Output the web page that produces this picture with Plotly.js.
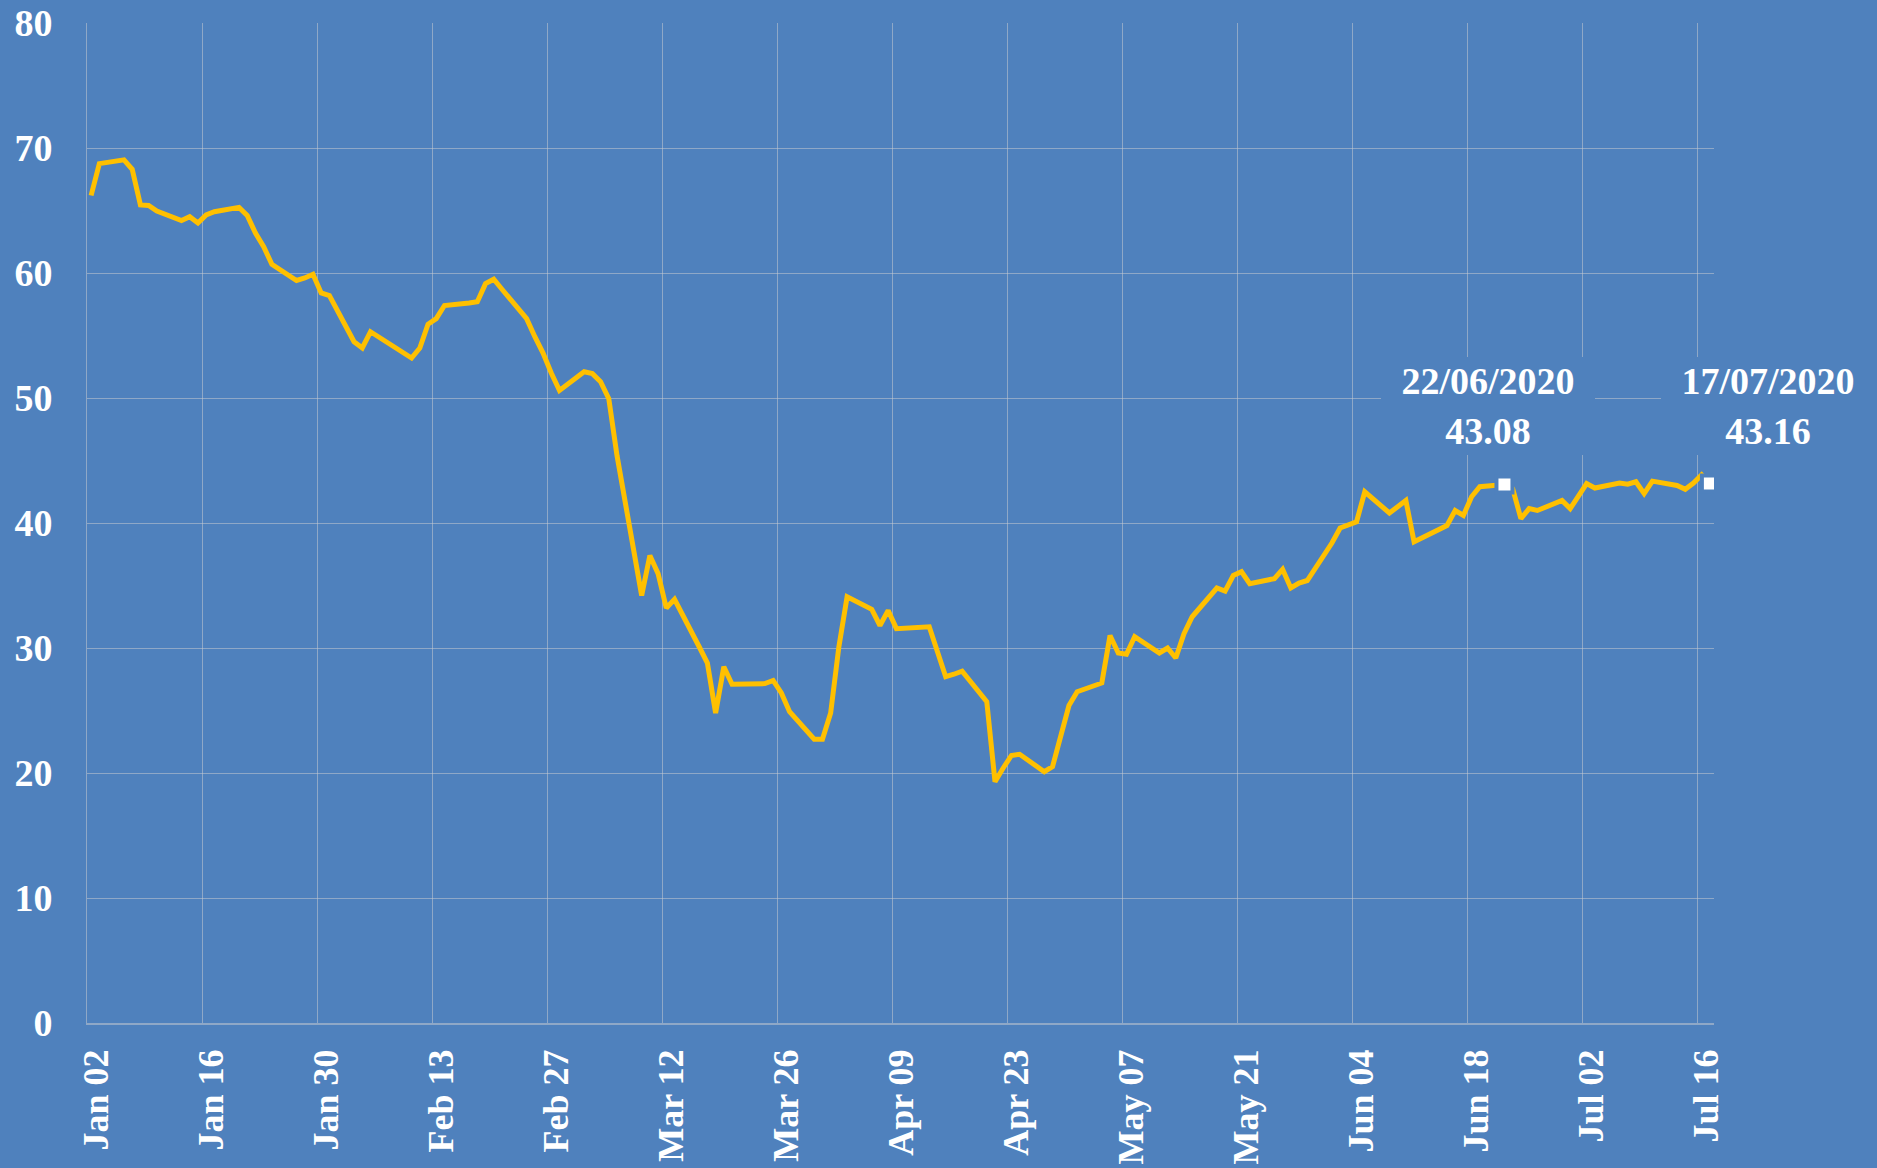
<!DOCTYPE html>
<html>
<head>
<meta charset="utf-8">
<script src="https://cdn.plot.ly/plotly-3.0.1.min.js"></script>
<style>
  html, body { margin: 0; padding: 0; background: #4F81BD; }
  #chart { width: 1877px; height: 1168px; }
</style>
</head>
<body>
<div id="chart"></div>
<script>
// Trading dates (2020)
const dates = [
  "2020-01-02","2020-01-03","2020-01-06","2020-01-07","2020-01-08","2020-01-09","2020-01-10",
  "2020-01-13","2020-01-14","2020-01-15","2020-01-16","2020-01-17","2020-01-20","2020-01-21",
  "2020-01-22","2020-01-23","2020-01-24","2020-01-27","2020-01-28","2020-01-29","2020-01-30",
  "2020-01-31","2020-02-03","2020-02-04","2020-02-05","2020-02-06","2020-02-07","2020-02-10",
  "2020-02-11","2020-02-12","2020-02-13","2020-02-14","2020-02-17","2020-02-18","2020-02-19",
  "2020-02-20","2020-02-21","2020-02-24","2020-02-25","2020-02-26","2020-02-27","2020-02-28",
  "2020-03-02","2020-03-03","2020-03-04","2020-03-05","2020-03-06","2020-03-09","2020-03-10",
  "2020-03-11","2020-03-12","2020-03-13","2020-03-16","2020-03-17","2020-03-18","2020-03-19",
  "2020-03-20","2020-03-23","2020-03-24","2020-03-25","2020-03-26","2020-03-27","2020-03-30",
  "2020-03-31","2020-04-01","2020-04-02","2020-04-03","2020-04-06","2020-04-07","2020-04-08",
  "2020-04-09","2020-04-13","2020-04-14","2020-04-15","2020-04-16","2020-04-17","2020-04-20",
  "2020-04-21","2020-04-22","2020-04-23","2020-04-24","2020-04-27","2020-04-28","2020-04-29",
  "2020-04-30","2020-05-01","2020-05-04","2020-05-05","2020-05-06","2020-05-07","2020-05-08",
  "2020-05-11","2020-05-12","2020-05-13","2020-05-14","2020-05-15","2020-05-18","2020-05-19",
  "2020-05-20","2020-05-21","2020-05-22","2020-05-25","2020-05-26","2020-05-27","2020-05-28",
  "2020-05-29","2020-06-01","2020-06-02","2020-06-03","2020-06-04","2020-06-05","2020-06-08",
  "2020-06-09","2020-06-10","2020-06-11","2020-06-12","2020-06-15","2020-06-16","2020-06-17",
  "2020-06-18","2020-06-19","2020-06-22","2020-06-23","2020-06-24","2020-06-25","2020-06-26",
  "2020-06-29","2020-06-30","2020-07-01","2020-07-02","2020-07-03","2020-07-06","2020-07-07",
  "2020-07-08","2020-07-09","2020-07-10","2020-07-13","2020-07-14","2020-07-15","2020-07-16",
  "2020-07-17"
];

// Price values
const prices = [
  66.2, 68.75, 69.05, 68.3, 65.45, 65.4, 64.95,
  64.2, 64.5, 64.0, 64.65, 64.9, 65.25, 64.6,
  63.2, 62.1, 60.7, 59.4, 59.6, 59.9, 58.4,
  58.2, 54.5, 54.0, 55.3, 54.9, 54.5, 53.2,
  54.0, 55.9, 56.35, 57.4, 57.6, 57.7, 59.15,
  59.5, 58.7, 56.35, 54.9, 53.6, 52.0, 50.6,
  52.1, 51.95, 51.3, 49.95, 45.4, 34.2, 37.4,
  35.95, 33.2, 33.9, 30.1, 28.8, 24.8, 28.5,
  27.1, 27.1, 27.15, 27.4, 26.4, 24.9, 22.7,
  22.7, 24.8, 30.1, 34.1, 33.1, 31.8, 33.0,
  31.55, 31.7, 29.7, 27.7, 27.9, 28.15, 25.7,
  19.3, 20.4, 21.4, 21.5, 20.1, 20.5, 22.8,
  25.4, 26.5, 27.2, 31.0, 29.6, 29.5, 30.9,
  29.6, 30.0, 29.2, 31.15, 32.5, 34.8, 34.55,
  35.8, 36.1, 35.15, 35.55, 36.3, 34.8, 35.2,
  35.4, 38.4, 39.6, 39.8, 40.1, 42.5, 40.8,
  41.3, 41.8, 38.5, 38.8, 39.8, 41.0, 40.6,
  42.1, 42.9, 43.08, 42.75, 40.35, 41.15, 41.0,
  41.8, 41.15, 42.1, 43.15, 42.8, 43.2, 43.1,
  43.3, 42.35, 43.35, 43.0, 42.7, 43.2, 43.85,
  43.16
];

// Labelled points
const labelDates = ["2020-06-22", "2020-07-17"];
const labelTexts = ["22/06/2020", "17/07/2020"];
const labelValues = [43.08, 43.16];

// Axis settings
const yTickValues = [0, 10, 20, 30, 40, 50, 60, 70, 80];

const BG = "#4F81BD";
const GRID = "rgba(196,200,208,0.55)";
const FONT = "Liberation Serif, Times New Roman, serif";
const DAY = 86400000;

const lineTrace = {
  type: "scatter",
  mode: "lines",
  x: dates,
  y: prices,
  xperiod: DAY,
  xperiodalignment: "middle",
  line: { color: "#FFC000", width: 5 },
  hoverinfo: "x+y",
  showlegend: false
};

const markerTrace = {
  type: "scatter",
  mode: "markers",
  x: labelDates,
  y: labelValues,
  xperiod: DAY,
  xperiodalignment: "middle",
  marker: { symbol: "square", size: 16, color: "#FFFFFF", line: { color: BG, width: 4 } },
  hoverinfo: "x+y",
  showlegend: false
};

const shifts = [[-16, 79], [58, 78]];
const annotations = labelDates.map((d, i) => ({
  x: d + " 12:00",
  y: labelValues[i],
  xref: "x",
  yref: "y",
  text: labelTexts[i] + "<br>" + labelValues[i].toFixed(2),
  showarrow: false,
  xshift: shifts[i][0],
  yshift: shifts[i][1],
  width: 212,
  height: 96,
  align: "center",
  valign: "middle",
  bgcolor: BG,
  borderwidth: 0,
  font: { family: FONT, size: 38, color: "#FFFFFF", weight: "bold" }
}));

const layout = {
  width: 1877,
  height: 1168,
  paper_bgcolor: BG,
  plot_bgcolor: BG,
  margin: { l: 87, r: 163, t: 23, b: 145, pad: 0 },
  showlegend: false,
  xaxis: {
    type: "date",
    range: ["2020-01-02", "2020-07-18"],
    tick0: "2020-01-02",
    dtick: 14 * DAY,
    tickformat: "%b %d",
    tickangle: -90,
    ticks: "",
    ticklabelstandoff: 10,
    ticklabelshift: 9,
    showgrid: true,
    gridcolor: GRID,
    gridwidth: 1,
    showline: true,
    linecolor: GRID,
    linewidth: 2,
    zeroline: false,
    tickfont: { family: FONT, size: 36, color: "#FFFFFF", weight: "bold" }
  },
  yaxis: {
    range: [0, 80],
    tickvals: yTickValues,
    ticks: "",
    ticklabelstandoff: 26,
    showgrid: true,
    gridcolor: GRID,
    gridwidth: 1,
    showline: true,
    linecolor: GRID,
    linewidth: 1,
    zeroline: false,
    tickfont: { family: FONT, size: 38, color: "#FFFFFF", weight: "bold" }
  },
  annotations: annotations
};

Plotly.newPlot("chart", [lineTrace, markerTrace], layout, { displayModeBar: false, responsive: false });
</script>
</body>
</html>
